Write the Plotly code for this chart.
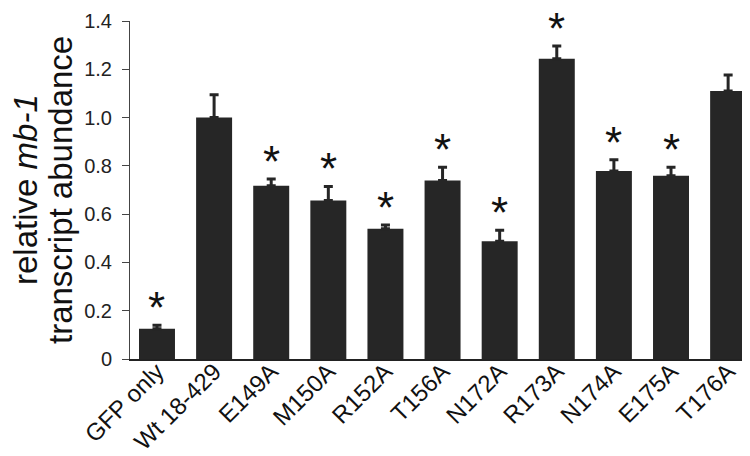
import plotly.graph_objects as go

categories = ["GFP only", "Wt 18-429", "E149A", "M150A", "R152A", "T156A",
              "N172A", "R173A", "N174A", "E175A", "T176A"]
values = [0.125, 1.0, 0.718, 0.657, 0.539, 0.739, 0.488, 1.244, 0.779, 0.759, 1.11]
errors = [0.015, 0.095, 0.028, 0.058, 0.016, 0.055, 0.045, 0.052, 0.046, 0.035, 0.066]
significant = [True, False, True, True, True, True, True, True, True, True, False]
ytick_vals = [0, 0.2, 0.4, 0.6, 0.8, 1.0, 1.2, 1.4]
ytick_text = ["0", "0.2", "0.4", "0.6", "0.8", "1.0", "1.2", "1.4"]
ytitle_lines = ["relative <i>mb-1</i>", "transcript abundance"]

FONT = "Liberation Sans, Arial, sans-serif"
BAR = "#262626"

fig = go.Figure()
fig.add_trace(go.Bar(
    x=list(range(len(categories))), y=values,
    marker=dict(color=BAR, line=dict(width=0)),
    width=0.63,
    error_y=dict(type="data", symmetric=False, array=errors,
                 arrayminus=[0] * len(errors), color=BAR, thickness=3, width=4.5),
))

for i, (v, e, s) in enumerate(zip(values, errors, significant)):
    if s:
        fig.add_annotation(x=i, y=v + e, text="*", showarrow=False,
                           xanchor="center", yanchor="bottom", yshift=-9,
                           font=dict(family=FONT, size=44, color="#111111"))

for xpos, line in zip([17, 52], ytitle_lines):
    fig.add_annotation(xref="paper", yref="paper", x=(xpos - 122) / 622, y=0.5,
                       text=line, textangle=-90, showarrow=False,
                       xanchor="center", yanchor="middle",
                       font=dict(family=FONT, size=33, color="#111111"))

fig.update_layout(
    width=750, height=456,
    margin=dict(l=122, r=6, t=13, b=105),
    paper_bgcolor="white", plot_bgcolor="white",
    showlegend=False,
    font=dict(family=FONT, color="#111111"),
)
fig.update_xaxes(
    range=[-0.4725, 10.418], automargin=False,
    tickvals=list(range(len(categories))), ticktext=categories,
    tickangle=-45, tickfont=dict(size=24, family=FONT, color="#111111"),
    ticklabelstandoff=-13,
    showline=True, linecolor="#222222", linewidth=2, ticks="",
    showgrid=False, zeroline=False,
)
fig.update_yaxes(
    range=[0, 1.4], tickvals=ytick_vals, ticktext=ytick_text, automargin=False,
    tickfont=dict(size=20, family=FONT, color="#222222"),
    ticks="outside", ticklen=7, tickcolor="#444444", tickwidth=1,
    ticklabelstandoff=6,
    showline=True, linecolor="#444444", linewidth=1,
    showgrid=False, zeroline=False,
)

fig.write_html("out.html")
